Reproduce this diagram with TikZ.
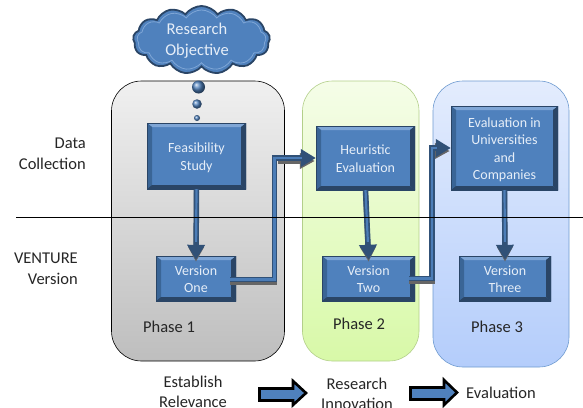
\documentclass[tikz,border=0pt]{standalone}
\usepackage{fontspec}
\setmainfont{Carlito}
\usetikzlibrary{shapes.symbols,shapes.arrows,arrows.meta,calc}
\newcommand\lowtext[1]{\raisebox{-2pt}[\height][\depth]{\begin{tabular}{@{}c@{}}#1\end{tabular}}}
\definecolor{bmain}{HTML}{4F81BD}
\definecolor{bdark}{HTML}{2A4566}
\definecolor{bmid}{HTML}{3A6596}
\definecolor{blight}{HTML}{7FA6D6}
\definecolor{txtlight}{HTML}{E6EEF8}
\definecolor{grayT}{HTML}{F0F0F0}
\definecolor{grayB}{HTML}{BEBEBE}
\definecolor{greenT}{HTML}{F5FDE8}
\definecolor{greenB}{HTML}{D8F9A8}
\definecolor{greenE}{HTML}{B3CF8A}
\definecolor{blueT}{HTML}{E3ECFD}
\definecolor{blueB}{HTML}{B4CDFB}
\definecolor{blueE}{HTML}{6F9BD0}
\tikzset{
  x=1pt,y=-1pt,
  panel/.style={draw,rounded corners=30pt,line width=.6pt},
  bevelbox/.style={fill=bmain,inner sep=0pt,text=txtlight,font=\fontsize{14}{17.5}\selectfont,
    path picture={
      \coordinate (sw) at (path picture bounding box.south west);
      \coordinate (ne) at (path picture bounding box.north east);
      \coordinate (nw) at (path picture bounding box.north west);
      \coordinate (se) at (path picture bounding box.south east);
      \fill[blight] (nw) -- (ne) -- ($(ne)+(-5,4)$) -- ($(nw)+(5,4)$) -- cycle;
      \fill[bmid] (nw) -- (sw) -- ($(sw)+(5,-4)$) -- ($(nw)+(5,4)$) -- cycle;
      \fill[bdark] (ne) -- (se) -- ($(se)+(-5,-4)$) -- ($(ne)+(-5,4)$) -- cycle;
      \fill[bdark] (sw) -- (se) -- ($(se)+(-5,-4)$) -- ($(sw)+(5,-4)$) -- cycle;
      \draw[bdark,line width=1.6pt] (sw) rectangle (ne);
    }},
  flowshadow/.style={draw=black!60,line width=5pt,transform canvas={yshift=-3pt},-{Triangle[length=15pt,width=15pt]}},
  flow/.style={draw=bdark!80!bmain,line width=5.5pt,-{Triangle[length=15pt,width=17pt]}},
  flowcore/.style={draw=bmain!85!bmid,line width=2.2pt},
  label/.style={align=center,font=\fontsize{16.5}{20}\selectfont,text=black!85,inner sep=0pt},
  sidelabel/.style={align=right,font=\fontsize{16.5}{21.5}\selectfont,text=black!85,inner sep=0pt},
  bigarrow/.style={draw=black,line width=2.6pt,fill=bmain,line join=miter},
  dotball/.style={circle,shading=ball,ball color=bmain,inner sep=0pt},
  rule/.style={draw=black,line width=.6pt},
}
\begin{document}
\begin{tikzpicture}
\useasboundingbox (0,0) rectangle (583,407);
\fill[white] (0,0) rectangle (583,407);
% panels
\path[panel,top color=grayT,bottom color=grayB] (111.5,81) rectangle (284.5,361);
\path[panel,draw=greenE,top color=greenT,bottom color=greenB] (302.5,81) rectangle (419,361);
\path[panel,draw=blueE,top color=blueT,bottom color=blueB] (433,81) rectangle (569,367);
% cloud
\node[cloud,cloud puffs=13,cloud puff arc=110,cloud ignores aspect,draw=bdark,line width=1.8pt,fill=bmain,minimum width=137pt,minimum height=68pt,inner sep=0pt] (cloudshape) at (201.5,40) {};
\node[cloud,cloud puffs=13,cloud puff arc=110,cloud ignores aspect,draw=blight,line width=.8pt,fill=bmain,minimum width=129pt,minimum height=60pt,inner sep=0pt] (cloudinner) at (201.5,40) {};
\node[text=txtlight,align=center,font=\fontsize{16.5}{21}\selectfont,inner sep=0pt] (goal) at (197,41) {Research\\Objective};
\node[dotball,minimum size=13pt] (d1) at (198.5,87) {};
\node[dotball,minimum size=9.5pt] (d2) at (197,104) {};
\node[dotball,minimum size=6pt] (d3) at (197,118) {};
% boxes
\node[bevelbox,minimum width=99pt,minimum height=66pt] (feas) at (196.5,156) {\lowtext{Feasibility\\Study}};
\node[bevelbox,minimum width=80pt,minimum height=45pt] (v1) at (196,278.5) {\lowtext{Version\\One}};
\node[bevelbox,minimum width=99pt,minimum height=64pt] (heur) at (365.5,158) {\lowtext{Heuristic\\Evaluation}};
\node[bevelbox,minimum width=93pt,minimum height=45pt] (v2) at (368.5,278.5) {\lowtext{Version\\Two}};
\node[bevelbox,minimum width=107pt,minimum height=84pt] (evalu) at (504.5,148) {\lowtext{Evaluation in\\Universities\\and\\Companies}};
\node[bevelbox,minimum width=92pt,minimum height=45pt] (v3) at (505,278.5) {\lowtext{Version\\Three}};
% connectors
\coordinate (s1) at (230,279.5);
\coordinate (k1) at (274.5,279.5);
\coordinate (k2) at (274.5,158);
\coordinate (s2) at (409,278.5);
\coordinate (k3) at (432,278.5);
\coordinate (k4) at (432,148);
\draw[flowshadow,shorten >=-3pt] (feas.south) -- (v1.north);
\draw[flowshadow,shorten >=-3pt] (heur.south) -- (v2.north);
\draw[flowshadow,shorten >=-3pt] (evalu.south) -- (v3.north);
\draw[flowshadow,-] (s1) -- (277,279.5);
\draw[flowshadow,-] (s2) -- (434.5,278.5);
\draw[flowshadow,shorten >=1pt] ($(k2)+(3,0)$) -- (heur.west);
\draw[flowshadow,shorten >=1pt] ($(k4)+(3,0)$) -- (evalu.west);
\draw[flow,shorten >=-4pt] (feas.south) -- (v1.north);
\draw[flow,shorten >=-4pt] (heur.south) -- (v2.north);
\draw[flow,shorten >=-4pt] (evalu.south) -- (v3.north);
\draw[flow,line join=miter] (s1) -- (k1) -- (k2) -- (heur.west);
\draw[flow,line join=miter] (s2) -- (k3) -- (k4) -- (evalu.west);
\draw[flowcore,shorten >=14pt] (feas.south) -- (v1.north);
\draw[flowcore,shorten >=14pt] (heur.south) -- (v2.north);
\draw[flowcore,shorten >=14pt] (evalu.south) -- (v3.north);
\draw[flowcore,shorten >=14pt,line join=miter] (s1) -- (k1) -- (k2) -- (heur.west);
\draw[flowcore,shorten >=14pt,line join=miter] (s2) -- (k3) -- (k4) -- (evalu.west);
% divider
\coordinate (ruleA) at (16,217);
\coordinate (ruleB) at (583,217);
\draw[rule] (ruleA) -- (ruleB);
% labels
\node[sidelabel,anchor=east] (l1) at (86,154) {Data\\Collection};
\node[sidelabel,anchor=east] (l2) at (78,269) {VENTURE\\Version};
\node[label] (p1) at (169,327) {Phase 1};
\node[label] (p2) at (359,324) {Phase 2};
\node[label] (p3) at (497,327) {Phase 3};
\node[label] (b1) at (193,392) {Establish\\Relevance};
\node[label] (b2) at (357,394) {Research\\Innovation};
\node[label] (b3) at (501,393) {Evaluation};
% block arrows
\draw[bigarrow] (259.5,388.5) -- (293,388.5) -- (293,381) -- (306,393) -- (293,405) -- (293,400.5) -- (259.5,400.5) -- cycle;
\draw[bigarrow] (410.5,387.5) -- (444,387.5) -- (444,380) -- (457,392.5) -- (444,405) -- (444,399.5) -- (410.5,399.5) -- cycle;
\end{tikzpicture}
\end{document}
